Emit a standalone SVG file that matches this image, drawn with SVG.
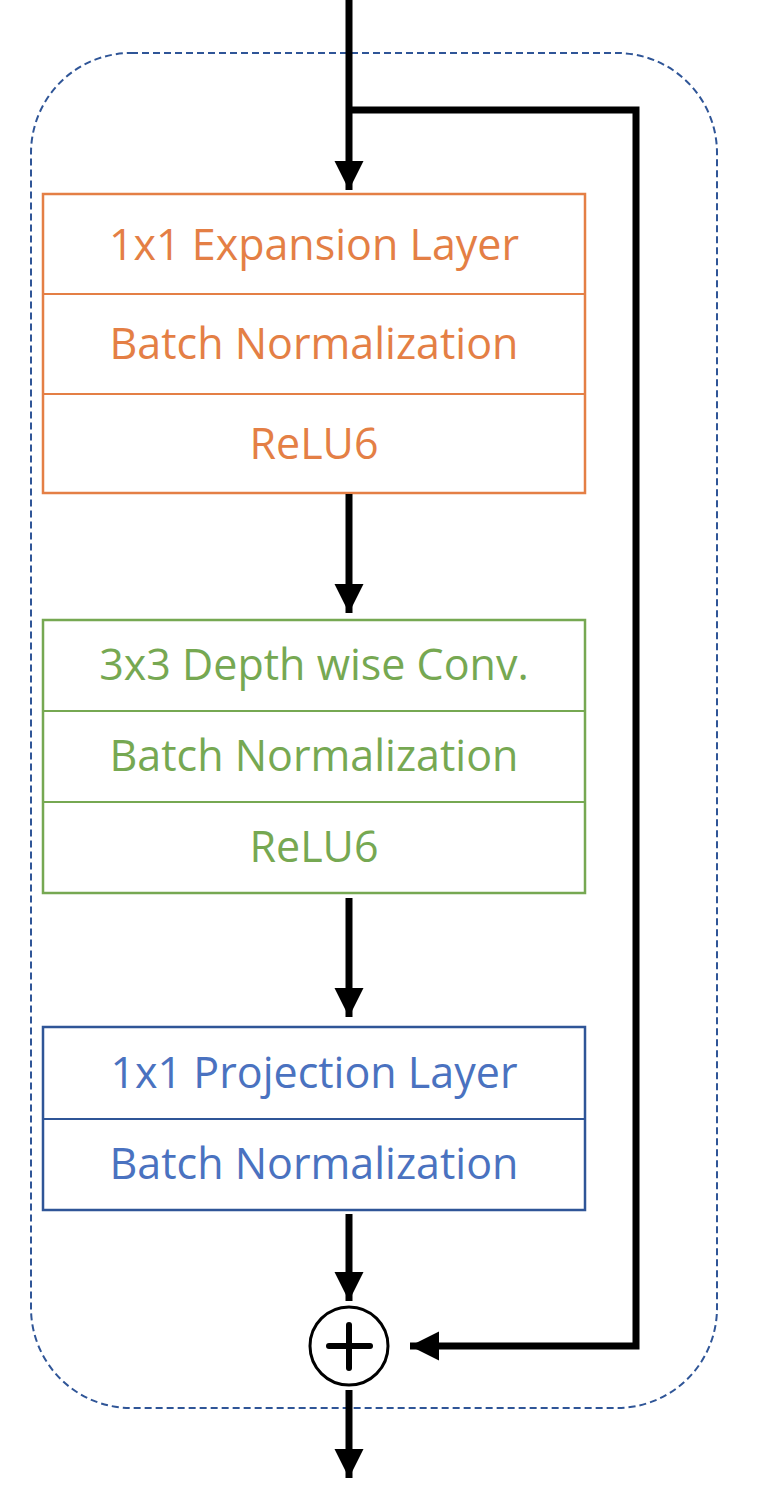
<svg xmlns="http://www.w3.org/2000/svg" width="762" height="1492" viewBox="0 0 762 1492">
<style>
.lbl{font-family:"Open Sans","Liberation Sans",sans-serif;font-size:43px;text-anchor:middle;dominant-baseline:central}
.or{fill:#E47F45}.gr{fill:#76A852}.bl{fill:#4A72C0}
.wire{stroke:#000;stroke-width:7;fill:none}
</style>
<defs>
<marker id="ah" viewBox="0 0 10 10" refX="10" refY="5" markerWidth="4.2" markerHeight="4.2" markerUnits="strokeWidth" orient="auto">
<path d="M0,0 L10,5 L0,10 Z" fill="#000"/>
</marker>
</defs>
<rect x="0" y="0" width="762" height="1492" fill="#fff"/>
<g id="container">
<rect x="31" y="53" width="686" height="1355" rx="100" ry="100" fill="none" stroke="#2F5597" stroke-width="2" stroke-dasharray="7,4"/>
</g>
<g id="expansion">
<rect x="43" y="194" width="542" height="299" fill="#fff" stroke="#E47F45" stroke-width="2.5"/>
<line x1="43" y1="294" x2="585" y2="294" stroke="#E47F45" stroke-width="2"/>
<line x1="43" y1="394" x2="585" y2="394" stroke="#E47F45" stroke-width="2"/>
<text class="lbl or" x="314" y="243">1x1 Expansion Layer</text>
<text class="lbl or" x="314" y="342">Batch Normalization</text>
<text class="lbl or" x="314" y="442">ReLU6</text>
</g>
<g id="depthwise">
<rect x="43" y="620" width="542" height="273" fill="#fff" stroke="#76A852" stroke-width="2.5"/>
<line x1="43" y1="711" x2="585" y2="711" stroke="#76A852" stroke-width="2"/>
<line x1="43" y1="802" x2="585" y2="802" stroke="#76A852" stroke-width="2"/>
<text class="lbl gr" x="314" y="663">3x3 Depth wise Conv.</text>
<text class="lbl gr" x="314" y="754">Batch Normalization</text>
<text class="lbl gr" x="314" y="845">ReLU6</text>
</g>
<g id="projection">
<rect x="43" y="1027" width="542" height="183" fill="#fff" stroke="#2F5597" stroke-width="2.5"/>
<line x1="43" y1="1119" x2="585" y2="1119" stroke="#2F5597" stroke-width="2"/>
<text class="lbl bl" x="314" y="1071">1x1 Projection Layer</text>
<text class="lbl bl" x="314" y="1162">Batch Normalization</text>
</g>
<g id="add">
<circle cx="349" cy="1346" r="39" fill="#fff" stroke="#000" stroke-width="3"/>
<line x1="329" y1="1346" x2="370" y2="1346" stroke="#000" stroke-width="6" stroke-linecap="round"/>
<line x1="349" y1="1325" x2="349" y2="1368" stroke="#000" stroke-width="6" stroke-linecap="round"/>
</g>
<g id="connectors">
<line class="wire" x1="349" y1="0" x2="349" y2="190" marker-end="url(#ah)"/>
<polyline class="wire" points="349,110 636,110 636,1346 410,1346" marker-end="url(#ah)"/>
<line class="wire" x1="349" y1="494" x2="349" y2="613" marker-end="url(#ah)"/>
<line class="wire" x1="349" y1="898" x2="349" y2="1017" marker-end="url(#ah)"/>
<line class="wire" x1="349" y1="1214" x2="349" y2="1301" marker-end="url(#ah)"/>
<line class="wire" x1="349" y1="1390" x2="349" y2="1478" marker-end="url(#ah)"/>
</g>
</svg>
